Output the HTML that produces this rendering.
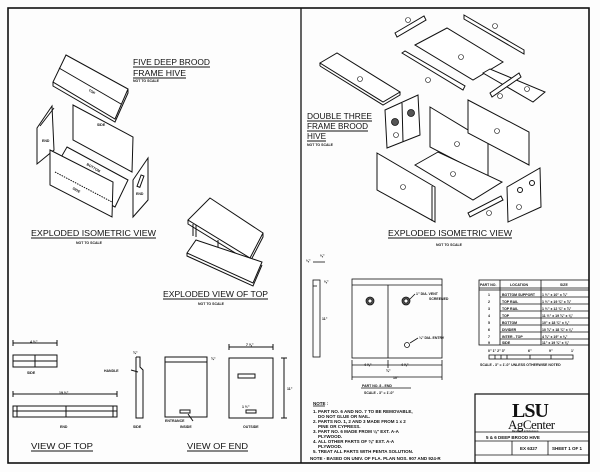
<!DOCTYPE html>
<html><head><meta charset="utf-8"><style>
html,body{margin:0;padding:0;background:#fff;}
svg{display:block;}
text{font-family:"Liberation Sans",sans-serif;fill:#111;}
.t{font-size:8.5px;}
.s{font-size:3.5px;font-weight:bold;}
.n{font-size:4.5px;font-weight:bold;}
</style></head><body>
<svg width="600" height="472" viewBox="0 0 600 472" xmlns="http://www.w3.org/2000/svg">
<rect x="0" y="0" width="600" height="472" fill="#fdfdfd"/>
<g fill="none" stroke="#111" stroke-width="1">
<rect x="8" y="8" width="581" height="455" stroke-width="1.6"/>
<line x1="301" y1="8" x2="301" y2="463" stroke-width="1.3"/>

<polygon points="66,55 128,89 115,119 53,82" fill="#fff"/>
<polyline points="53,82 53,86 115,122 128,93 128,89"/>
<line x1="59" y1="68" x2="121" y2="104"/>
<polygon points="37,128 52,106 54,150 37,164" fill="#fff"/>
<line x1="40" y1="126" x2="54" y2="108"/>
<polygon points="73,105 133,137 132,172 73,140" fill="#fff"/>
<polygon points="67,147 128,180 115,207 52,173" fill="#fff"/>
<polygon points="50,150 113,182 112,217 50,185" fill="#fff"/>
<line x1="55" y1="172" x2="112" y2="202" stroke-dasharray="1.5,1"/>
<polygon points="133,180 148,158 148,200 133,217" fill="#fff"/>
<rect x="139" y="175" width="3" height="12" transform="rotate(20 140 181)"/>
<line x1="31" y1="238" x2="156" y2="238"/>

<polygon points="210,198 263,233 250,258 188,220" fill="#fff"/>
<polyline points="188,220 188,224 250,262 263,237 263,233"/>
<line x1="193" y1="224" x2="193" y2="236"/><line x1="196" y1="225" x2="196" y2="237"/>
<line x1="218" y1="240" x2="218" y2="252"/><line x1="248" y1="258" x2="248" y2="271"/>
<polygon points="196,240 262,262 253,283 187,253" fill="#fff"/>
<polyline points="187,253 187,256 253,286 262,265"/>
<line x1="163" y1="299" x2="268" y2="299"/>

<rect x="13" y="355" width="44" height="12"/><line x1="13" y1="361" x2="57" y2="361"/><line x1="35" y1="355" x2="35" y2="367"/>
<line x1="13" y1="343" x2="57" y2="343"/><line x1="13" y1="340" x2="13" y2="346"/><line x1="57" y1="340" x2="57" y2="346"/>
<rect x="13" y="406" width="104" height="11"/><line x1="13" y1="411" x2="117" y2="411"/><line x1="17" y1="406" x2="17" y2="417"/><line x1="113" y1="406" x2="113" y2="417"/><line x1="66" y1="406" x2="66" y2="417"/>
<line x1="13" y1="394" x2="117" y2="394"/><line x1="13" y1="391" x2="13" y2="397"/><line x1="117" y1="391" x2="117" y2="397"/>
<line x1="31" y1="451" x2="93" y2="451"/>

<polyline points="136,357 140,357 140,367 143,370 143,418 136,418 136,357"/>
<line x1="131" y1="370" x2="138" y2="372"/>
<rect x="165" y="357" width="42" height="60"/><line x1="165" y1="362" x2="207" y2="362"/>
<rect x="180" y="410" width="10" height="3"/>
<line x1="193" y1="421" x2="188" y2="414"/>
<rect x="229" y="358" width="44" height="60"/>
<rect x="238" y="374" width="17" height="4"/>
<rect x="246" y="410" width="10" height="3"/>
<line x1="229" y1="347" x2="273" y2="347"/><line x1="229" y1="344" x2="229" y2="350"/><line x1="273" y1="344" x2="273" y2="350"/>
<line x1="284" y1="358" x2="284" y2="418"/><line x1="281" y1="358" x2="287" y2="358"/><line x1="281" y1="418" x2="287" y2="418"/>
<line x1="187" y1="451" x2="248" y2="451"/>

<polygon points="395,33 424,16 426,20 397,37" fill="#fff"/>
<polygon points="464,15 524,50 524,54 464,19" fill="#fff"/>
<polygon points="415,45 447,28 503,62 473,80" fill="#fff"/>
<polygon points="320,63 337,53 400,92 383,102" fill="#fff"/><line x1="320" y1="63" x2="320" y2="66"/><polyline points="320,66 383,105 400,95 400,92"/>
<polygon points="402,53 405,51 465,86 463,90" fill="#fff"/>
<polygon points="483,73 490,69 545,92 533,102" fill="#fff"/>
<polygon points="490,93 519,73 521,77 492,97" fill="#fff"/>
<polygon points="385,110 418,95 420,135 387,148" fill="#fff"/><line x1="402" y1="103" x2="403" y2="142"/>
<polygon points="430,107 488,142 488,177 430,147" fill="#fff"/>
<polygon points="468,100 529,132 529,165 468,133" fill="#fff"/>
<polygon points="415,165 438,152 502,182 473,200" fill="#fff"/>
<polygon points="377,153 435,187 435,222 377,190" fill="#fff"/><line x1="432" y1="186" x2="432" y2="221"/>
<polygon points="507,187 540,168 541,207 508,222" fill="#fff"/>
<circle cx="520" cy="190" r="2.5"/><circle cx="532" cy="183" r="2.5"/>
<polygon points="468,213 501,196 503,200 470,217" fill="#fff"/>
<line x1="388" y1="238" x2="512" y2="238"/>
<line x1="307" y1="121" x2="372" y2="121"/><line x1="307" y1="131" x2="368" y2="131"/><line x1="307" y1="141" x2="326" y2="141"/>
<line x1="133" y1="67" x2="210" y2="67"/><line x1="133" y1="78" x2="186" y2="78"/>
</g>
<g fill="#fff" stroke="#111" stroke-width="0.6">
<circle cx="408" cy="20" r="2.5"/><circle cx="495" cy="26" r="2.5"/><circle cx="461" cy="57" r="2.5"/><circle cx="360" cy="79" r="2.5"/><circle cx="428" cy="80" r="2.5"/><circle cx="527" cy="89" r="2.5"/><circle cx="500" cy="96" r="2.5"/><circle cx="396" cy="135" r="2.5"/><circle cx="457" cy="144" r="2.5"/><circle cx="497" cy="131" r="2.5"/><circle cx="453" cy="174" r="2.5"/><circle cx="403" cy="187" r="2.5"/><circle cx="519" cy="207" r="2.5"/><circle cx="489" cy="213" r="2.5"/>
</g>
<g fill="#555" stroke="#111" stroke-width="0.8"><circle cx="395" cy="122" r="3.5"/><circle cx="411" cy="113" r="3.5"/><circle cx="370" cy="301" r="4"/><circle cx="406" cy="301" r="4"/></g>
<g fill="#fff" stroke="#111" stroke-width="0.8"><circle cx="370" cy="301" r="2"/><circle cx="406" cy="301" r="2"/><circle cx="407" cy="345" r="2.5"/></g>

<g fill="none" stroke="#111" stroke-width="0.8">
<rect x="313" y="280" width="7" height="77"/><line x1="313" y1="286" x2="317" y2="286"/>
<line x1="313" y1="262" x2="325" y2="262"/>
<rect x="352" y="279" width="90" height="79"/><line x1="352" y1="285" x2="442" y2="285"/><line x1="388" y1="285" x2="388" y2="358"/>
<line x1="410" y1="299" x2="415" y2="294"/><line x1="410" y1="343" x2="418" y2="338"/>
<line x1="352" y1="365" x2="442" y2="365"/><line x1="352" y1="377" x2="442" y2="377"/>
<line x1="352" y1="360" x2="352" y2="380"/><line x1="442" y1="360" x2="442" y2="380"/><line x1="388" y1="360" x2="388" y2="368"/>
<line x1="361" y1="388" x2="411" y2="388"/><line x1="313" y1="406" x2="325" y2="406"/>
<rect x="479" y="280" width="110" height="65"/><line x1="479" y1="288" x2="589" y2="288"/><line x1="479" y1="290" x2="589" y2="290"/>
<line x1="500" y1="280" x2="500" y2="345"/><line x1="541" y1="280" x2="541" y2="345"/>
<line x1="500" y1="297" x2="589" y2="297"/><line x1="500" y1="304" x2="589" y2="304"/><line x1="500" y1="311" x2="589" y2="311"/><line x1="500" y1="318" x2="589" y2="318"/><line x1="500" y1="325" x2="589" y2="325"/><line x1="500" y1="332" x2="589" y2="332"/><line x1="500" y1="339" x2="589" y2="339"/>
<rect x="489" y="355" width="84" height="4"/><line x1="495" y1="355" x2="495" y2="359"/><line x1="501" y1="355" x2="501" y2="359"/><line x1="507" y1="355" x2="507" y2="359"/><line x1="530" y1="355" x2="530" y2="359"/><line x1="551" y1="355" x2="551" y2="359"/>
<rect x="475" y="394" width="114" height="69" stroke-width="1.2"/><line x1="475" y1="432" x2="589" y2="432"/><line x1="475" y1="441" x2="589" y2="441"/><line x1="475" y1="455" x2="589" y2="455"/><line x1="512" y1="441" x2="512" y2="455"/><line x1="548" y1="441" x2="548" y2="455"/>
</g>

<text class="t" x="133" y="65" textLength="77" lengthAdjust="spacingAndGlyphs">FIVE DEEP BROOD</text>
<text class="t" x="133" y="76" textLength="53" lengthAdjust="spacingAndGlyphs">FRAME HIVE</text>
<text class="s" x="133" y="82">NOT TO SCALE</text>
<text class="s" x="88" y="92" transform="rotate(30 90 92)">TOP</text>
<text class="s" x="97" y="126">SIDE</text>
<text class="s" x="42" y="142">END</text>
<text class="s" x="86" y="166" transform="rotate(30 88 166)">BOTTOM</text>
<text class="s" x="72" y="190" transform="rotate(30 74 190)">SIDE</text>
<text class="s" x="136" y="195">END</text>
<text class="t" x="31" y="236" textLength="125" lengthAdjust="spacingAndGlyphs">EXPLODED ISOMETRIC VIEW</text>
<text class="s" x="76" y="244">NOT TO SCALE</text>
<text class="t" x="163" y="297" textLength="105" lengthAdjust="spacingAndGlyphs">EXPLODED VIEW OF TOP</text>
<text class="s" x="198" y="305">NOT TO SCALE</text>
<text class="s" x="30" y="343">4 ½"</text>
<text class="s" x="27" y="374">SIDE</text>
<text class="s" x="59" y="394">19 ½"</text>
<text class="s" x="60" y="428">END</text>
<text class="t" x="31" y="449" textLength="62" lengthAdjust="spacingAndGlyphs">VIEW OF TOP</text>
<text class="s" x="104" y="372">HANDLE</text>
<text class="s" x="133" y="354">¾"</text>
<text class="s" x="133" y="428">SIDE</text>
<text class="s" x="211" y="360">¾"</text>
<text class="s" x="165" y="422">ENTRANCE</text>
<text class="s" x="180" y="428">INSIDE</text>
<text class="s" x="246" y="346">7 ⅝"</text>
<text class="s" x="287" y="390">11"</text>
<text class="s" x="242" y="408">1 ½"</text>
<text class="s" x="243" y="428">OUTSIDE</text>
<text class="t" x="187" y="449" textLength="61" lengthAdjust="spacingAndGlyphs">VIEW OF END</text>

<text class="t" x="307" y="119" textLength="65" lengthAdjust="spacingAndGlyphs">DOUBLE THREE</text>
<text class="t" x="307" y="129" textLength="61" lengthAdjust="spacingAndGlyphs">FRAME BROOD</text>
<text class="t" x="307" y="139" textLength="19" lengthAdjust="spacingAndGlyphs">HIVE</text>
<text class="s" x="307" y="146">NOT TO SCALE</text>
<text class="t" x="388" y="236" textLength="124" lengthAdjust="spacingAndGlyphs">EXPLODED ISOMETRIC VIEW</text>
<text class="s" x="436" y="246">NOT TO SCALE</text>

<text class="s" x="306" y="262">⅛"</text><text class="s" x="320" y="257">⅜"</text><text class="s" x="324" y="283">⅜"</text><text class="s" x="322" y="320">11"</text>
<text class="s" x="416" y="295">1" DIA. VENT</text><text class="s" x="429" y="300">SCREENED</text>
<text class="s" x="419" y="339">¼" DIA. ENTRY</text>
<text class="s" x="364" y="366">4 ⅝"</text><text class="s" x="401" y="366">4 ⅝"</text><text class="s" x="386" y="372">¾"</text><text class="s" x="393" y="379">10"</text>
<text class="s" x="362" y="387">PART NO. 8 - END</text><text class="s" x="364" y="394">SCALE - 3" = 1'-0"</text>
<text class="n" x="313" y="405">NOTE :</text>
<text class="n" x="313" y="413">1. PART NO. 6 AND NO. 7 TO  BE REMOVABLE,</text>
<text class="n" x="318" y="418">DO NOT GLUE OR NAIL.</text>
<text class="n" x="313" y="423">2. PARTS NO. 1, 2 AND 3 MADE FROM  1 x 2</text>
<text class="n" x="318" y="428">PINE OR CYPRESS.</text>
<text class="n" x="313" y="433">3. PART NO. 6  MADE FROM ⅛" EXT. A-A</text>
<text class="n" x="318" y="438">PLYWOOD.</text>
<text class="n" x="313" y="443">4. ALL OTHER PARTS  OF  ⅜" EXT. A-A</text>
<text class="n" x="318" y="448">PLYWOOD.</text>
<text class="n" x="313" y="453">5. TREAT ALL PARTS WITH PENTA SOLUTION.</text>
<text class="n" x="310" y="460">NOTE - BASED  ON UNIV. OF FLA.  PLAN NOS. 907 AND 924-R</text>

<text class="s" x="480" y="286">PART NO.</text><text class="s" x="510" y="286">LOCATION</text><text class="s" x="560" y="286">SIZE</text>
<text class="s" x="488" y="296">1</text><text class="s" x="502" y="296">BOTTOM SUPPORT</text><text class="s" x="542" y="296">1 ½" x 10" x ¾"</text>
<text class="s" x="488" y="303">2</text><text class="s" x="502" y="303">TOP RAIL</text><text class="s" x="542" y="303">1 ½" x 19 ¾" x ¾"</text>
<text class="s" x="488" y="310">3</text><text class="s" x="502" y="310">TOP RAIL</text><text class="s" x="542" y="310">1 ½" x 12 ¾" x ¾"</text>
<text class="s" x="488" y="317">4</text><text class="s" x="502" y="317">TOP</text><text class="s" x="542" y="317">11 ½" x 19 ¾" x ⅜"</text>
<text class="s" x="488" y="324">5</text><text class="s" x="502" y="324">BOTTOM</text><text class="s" x="542" y="324">10" x 18 ¾" x ⅜"</text>
<text class="s" x="488" y="331">6</text><text class="s" x="502" y="331">DIVIDER</text><text class="s" x="542" y="331">10 ¾" x 18 ¾" x ⅛"</text>
<text class="s" x="488" y="338">7</text><text class="s" x="502" y="338">INTER - TOP</text><text class="s" x="542" y="338">4 ¾" x 19" x ⅜"</text>
<text class="s" x="488" y="344">9</text><text class="s" x="502" y="344">SIDE</text><text class="s" x="542" y="344">11" x 19 ¾" x ⅜"</text>
<text class="s" x="488" y="352">0" 1" 2" 3"</text><text class="s" x="528" y="352">6"</text><text class="s" x="549" y="352">9"</text><text class="s" x="571" y="352">1'</text>
<text class="s" x="480" y="366">SCALE - 3" = 1'-0"   UNLESS OTHERWISE NOTED</text>

<text x="512" y="417" style="font-family:'Liberation Serif',serif;font-size:20px;font-weight:bold;letter-spacing:-1px">LSU</text>
<text x="508" y="429" style="font-family:'Liberation Serif',serif;font-size:13px;letter-spacing:-0.5px">AgCenter</text>
<text class="s" x="512" y="432" style="font-size:2.5px">Research &amp; Extension</text>
<text class="n" x="486" y="439">5 &amp; 6  DEEP  BROOD  HIVE</text>
<text class="n" x="520" y="450">EX 6327</text>
<text class="n" x="552" y="450">SHEET 1 OF 1</text>
</svg>
</body></html>
